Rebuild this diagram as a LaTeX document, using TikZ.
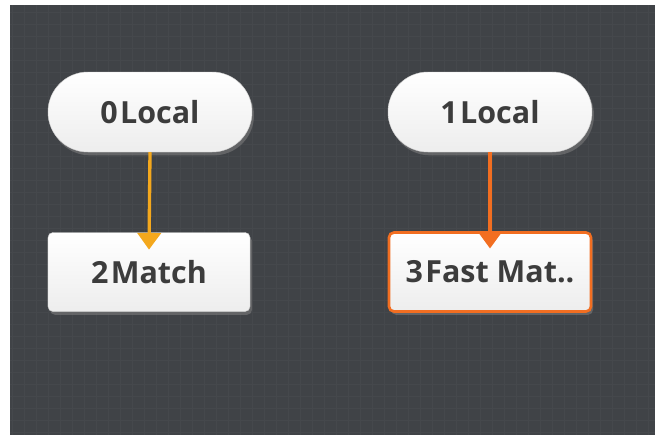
\documentclass[tikz,border=0pt]{standalone}
\usepackage{fontspec}
\setsansfont{Open Sans}
\usepackage{xcolor}
\usetikzlibrary{arrows.meta,positioning,shadows}
\definecolor{canvas}{HTML}{404347}
\definecolor{gridc}{HTML}{45484C}
\definecolor{nodetext}{HTML}{3C3C3C}
\definecolor{linkA}{HTML}{F4A81D}
\definecolor{linkB}{HTML}{F26E21}

\begin{document}
\begin{tikzpicture}[x=0.3mm,y=-0.3mm,font=\sffamily\bfseries\fontsize{26}{30}\selectfont,
  base/.style={text=nodetext,top color=white,bottom color=gray!14,inner sep=0pt,
    drop shadow={opacity=0.55,shadow xshift=0.6mm,shadow yshift=-1mm}},
  srcnode/.style={base,draw=gray!35,rounded corners=12mm,minimum width=61.2mm,minimum height=24mm},
  toolnode/.style={base,draw=gray!35,rounded corners=1.5mm,minimum width=60.6mm,minimum height=23.7mm},
  selnode/.style={toolnode,draw=linkB,line width=0.8mm},
  link/.style={line width=1mm,-{Triangle[width=7mm,length=5mm]}}]
  \useasboundingbox (0,0) rectangle (658,435);
  \fill[canvas] (10,5) rectangle (655,435);
  \draw[gridc,line width=0.15mm,step=3.6mm] (10,5) grid (655,435);
  \node[srcnode] (local0) at (150,112) {0\kern2pt Local};
  \node[srcnode] (local1) at (490,112) {1\kern2pt Local};
  \node[toolnode] (match2) at (149,272) {2\kern2pt Match};
  \node[selnode] (fast3) at (490,272) {3\kern2pt Fast Mat..};
  \draw[link,linkA] (local0.south) -- ([yshift=-5.2mm]match2.north);
  \draw[link,linkB] (local1.south) -- ([yshift=-5.2mm]fast3.north);
\end{tikzpicture}
\end{document}
